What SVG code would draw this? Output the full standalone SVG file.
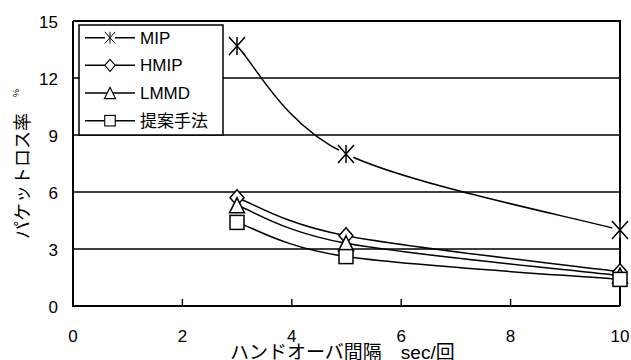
<svg xmlns="http://www.w3.org/2000/svg" xmlns:xlink="http://www.w3.org/1999/xlink" width="631" height="360" viewBox="0 0 631 360">
<style>
.t{font-family:"Liberation Sans","Noto Sans CJK JP",sans-serif;font-size:17px;fill:#000}
.jp{font-family:"Liberation Sans","Noto Sans CJK JP",sans-serif;fill:#000}
.grid{stroke:#000;stroke-width:1.4;fill:none}
.axis{stroke:#000;stroke-width:2;fill:none}
.ser{stroke:#000;stroke-width:1.5;fill:none}
.mk{stroke:#000;stroke-width:1.5;fill:#fff}
</style>
<defs>
<g id="ast"><circle r="8" fill="#fff" stroke="none"/><path d="M-8,-9L8,9M-8,9L8,-9M0,-9V9" stroke="#000" stroke-width="1.5" fill="none"/></g>
<polygon id="dia" class="mk" points="0,-8 7,0 0,8 -7,0"/>
<polygon id="tri" class="mk" points="0,-7.5 7.5,7.5 -7.5,7.5"/>
<rect id="sq" class="mk" x="-7" y="-7" width="14" height="14"/>
</defs>
<rect width="631" height="360" fill="#fff"/>
<g id="grid">
<path class="grid" d="M73,78H620M73,135H620M73,192H620M73,249H620"/>
<path class="axis" d="M73,21H620V306"/>
<path class="axis" d="M73,21V306H620"/>
<path class="grid" d="M182.4,306V299M291.8,306V299M401.2,306V299M510.6,306V299"/>
</g>
<g id="yticks" class="t" text-anchor="end">
<text x="58" y="28">15</text>
<text x="58" y="85">12</text>
<text x="58" y="142">9</text>
<text x="58" y="199">6</text>
<text x="58" y="256">3</text>
<text x="58" y="313">0</text>
</g>
<g id="xticks" class="t" text-anchor="middle">
<text x="73" y="342">0</text>
<text x="182.4" y="342">2</text>
<text x="291.8" y="342">4</text>
<text x="401.2" y="342">6</text>
<text x="510.6" y="342">8</text>
<text x="620" y="342">10</text>
</g>
<g id="ylabel">
<text class="jp" font-size="18" text-anchor="middle" transform="translate(29,176) rotate(-90)">パケットロス率</text>
<text class="jp" font-size="9" text-anchor="middle" transform="translate(19,93) rotate(-90)">%</text>
</g>
<g id="xlabel">
<text class="jp" font-size="19" x="230" y="359">ハンドオーバ間隔　sec/回</text>
</g>
<g id="legend">
<rect x="79" y="25" width="144" height="110" fill="#fff" stroke="#000" stroke-width="1.5"/>
<path class="ser" d="M85,37.7H135M85,65.3H135M85,93H135M85,120.7H135"/>
<use xlink:href="#ast" transform="translate(110,37.7) scale(0.65)"/>
<use xlink:href="#dia" transform="translate(110,65.3) scale(0.75)"/>
<use xlink:href="#tri" transform="translate(110,93) scale(0.75)"/>
<use xlink:href="#sq" transform="translate(110,120.7) scale(0.75)"/>
<text class="t" x="140" y="43.7">MIP</text>
<text class="t" x="140" y="71.3">HMIP</text>
<text class="t" x="140" y="99">LMMD</text>
<text class="jp" font-size="17" x="140" y="127">提案手法</text>
</g>
<g id="connectors">
<path class="ser" d="M237,46C255.2,64 282.2,123.3 346,154C409.8,184.7 574.3,217.3 620,230"/>
<path class="ser" d="M237,197.7C255.2,204 282.2,223.35 346,235.7C409.8,248.05 574.3,265.8 620,271.8"/>
<path class="ser" d="M237,205.3C255.2,211.6 282.2,231.6 346,243.3C409.8,255 574.3,270.2 620,275.6"/>
<path class="ser" d="M237,222.4C255.2,228.1 282.2,247.1 346,256.6C409.8,266.1 574.3,275.6 620,279.4"/>
</g>
<g id="series-MIP">
<use xlink:href="#ast" x="237" y="46"/>
<use xlink:href="#ast" x="346" y="154"/>
<use xlink:href="#ast" x="620" y="230"/>
</g>
<g id="series-HMIP">
<use xlink:href="#dia" x="237" y="197.7"/>
<use xlink:href="#dia" x="346" y="235.7"/>
<use xlink:href="#dia" x="620" y="271.8"/>
</g>
<g id="series-LMMD">
<use xlink:href="#tri" x="237" y="205.3"/>
<use xlink:href="#tri" x="346" y="243.3"/>
<use xlink:href="#tri" x="620" y="275.6"/>
</g>
<g id="series-proposed">
<use xlink:href="#sq" x="237" y="222.4"/>
<use xlink:href="#sq" x="346" y="256.6"/>
<use xlink:href="#sq" x="620" y="279.4"/>
</g>
</svg>
